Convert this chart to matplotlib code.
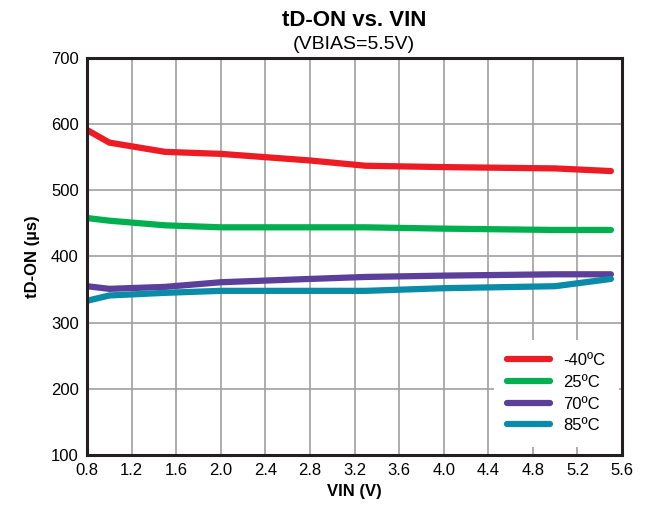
import numpy as np
import matplotlib.pyplot as plt

plt.rcParams['font.family'] = ['Liberation Sans', 'DejaVu Sans']

# VIN (V) sample points
vin = [0.8, 1.0, 1.5, 2.0, 2.8, 3.3, 4.0, 5.0, 5.5]

# tD-ON (us) per temperature
td_m40 = [591, 572, 558, 555, 545, 537, 535, 533, 529]
td_25 = [458, 454, 447, 444, 444, 444, 442, 440, 440]
td_70 = [355, 351, 354, 361, 366, 369, 371, 373, 373]
td_85 = [333, 341, 345, 348, 348, 348, 352, 355, 366]

labels = ['-40ºC', '25ºC', '70ºC', '85ºC']
colors = ['#ed1c24', '#00b050', '#5b3f9b', '#0a8ba8']

xticks = np.arange(0.8, 5.61, 0.4)
yticks = np.arange(100, 701, 100)

fig = plt.figure(figsize=(6.5, 5.17), dpi=100)
ax = fig.add_axes([0.134, 0.12, 0.823, 0.768])

for y, lab, c in zip([td_m40, td_25, td_70, td_85], labels, colors):
    ax.plot(vin, y, color=c, lw=4.5, label=lab, solid_capstyle='round')

ax.set_xlim(0.8, 5.6)
ax.set_ylim(100, 700)
ax.set_xticks(xticks)
ax.set_xticklabels([f'{v:.1f}' for v in xticks])
ax.set_yticks(yticks)
ax.tick_params(labelsize=12, length=0, pad=6)
ax.grid(True, color='#a0a0a0', lw=1.2)
for s in ax.spines.values():
    s.set_linewidth(2.2)
    s.set_color('#231f20')

ax.set_xlabel('VIN (V)', fontsize=12, fontweight='bold', labelpad=4)
ax.set_ylabel('tD-ON (µs)', fontsize=12, fontweight='bold', labelpad=8)

fig.text(0.545, 0.96, 'tD-ON vs. VIN', ha='center', va='center',
         fontsize=16, fontweight='bold')
fig.text(0.545, 0.913, '(VBIAS=5.5V)', ha='center', va='center', fontsize=14)

leg = ax.legend(loc='lower right', bbox_to_anchor=(1.01, 0.0), fontsize=12,
                frameon=True, framealpha=1, edgecolor='none', fancybox=False,
                handlelength=2.6, labelspacing=0.4, borderpad=0.8)

fig.savefig('out.png', dpi=100)
